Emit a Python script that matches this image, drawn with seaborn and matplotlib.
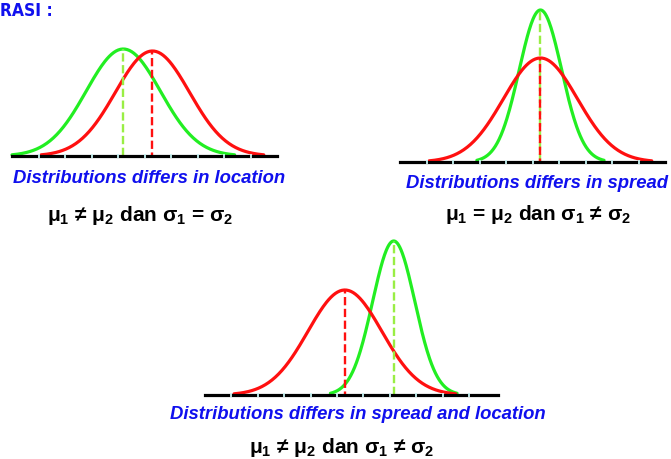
import numpy as np
import pandas as pd
import seaborn as sns
import matplotlib.pyplot as plt

# panel captions
judul = ["Distributions differs in location",
         "Distributions differs in spread",
         "Distributions differs in spread and location"]
rumus = [r"μ$_\mathbf{1}$ ≠ μ$_\mathbf{2}$ dan σ$_\mathbf{1}$ = σ$_\mathbf{2}$",
         r"μ$_\mathbf{1}$ = μ$_\mathbf{2}$ dan σ$_\mathbf{1}$ ≠ σ$_\mathbf{2}$",
         r"μ$_\mathbf{1}$ ≠ μ$_\mathbf{2}$ dan σ$_\mathbf{1}$ ≠ σ$_\mathbf{2}$"]

# distribution parameters per panel (red, green), x in tick units
mean_merah = [5.3, 5.3, 5.3]
sd_merah = [1.4, 1.4, 1.4]
tinggi_merah = [105, 104, 105]
mean_hijau = [4.2, 5.3, 7.15]
sd_hijau = [1.4, 0.8, 0.8]
tinggi_hijau = [107, 152, 154]
n_tick = [9, 9, 10]
x_max = [10, 10, 11.1]

sns.set_style("white")
plt.rcParams['font.family'] = ['Liberation Sans', 'DejaVu Sans']
plt.rcParams['mathtext.fontset'] = 'custom'
plt.rcParams['mathtext.bf'] = 'Liberation Sans:bold'
plt.rcParams['mathtext.rm'] = 'Liberation Sans'

W, H = 671, 460
fig = plt.figure(figsize=(W / 100, H / 100), dpi=100)

# axes position in pixels: left, right, baseline (from top), height
pos = [(12, 277, 157, 150), (400, 665, 163, 160), (205, 498, 396, 160)]

MERAH = '#ff1010'
HIJAU = '#22ee22'
HIJAU_MUDA = '#99ee44'

for i in range(3):
    kiri, kanan, dasar, tinggi = pos[i]
    ax = fig.add_axes([kiri / W, (H - dasar) / H, (kanan - kiri) / W, tinggi / H])

    frames = []
    for nama, m, s, t in [("hijau", mean_hijau[i], sd_hijau[i], tinggi_hijau[i]),
                          ("merah", mean_merah[i], sd_merah[i], tinggi_merah[i])]:
        x = np.linspace(m - 3 * s, m + 3 * s, 200)
        frames.append(pd.DataFrame({"x": x, "y": t * np.exp(-0.5 * ((x - m) / s) ** 2), "dist": nama}))
    df = pd.concat(frames)

    sns.lineplot(data=df, x="x", y="y", hue="dist", palette={"hijau": HIJAU, "merah": MERAH},
                 linewidth=2.3, legend=False, ax=ax, clip_on=False, sort=False)

    ax.vlines(mean_hijau[i], 0, tinggi_hijau[i], colors=HIJAU_MUDA, linestyles=(0, (3.5, 1.5)), linewidth=1.7)
    ax.vlines(mean_merah[i], 0, tinggi_merah[i], colors=MERAH, linestyles=(2, (3.5, 1.5)), linewidth=1.7)

    ax.set_xlim(0, x_max[i])
    ax.set_ylim(0, tinggi)
    for sp in ["top", "left", "right"]:
        ax.spines[sp].set_visible(False)
    ax.spines["bottom"].set_linewidth(2.3)
    ax.spines["bottom"].set_color("black")
    ax.set_axisbelow(False)
    ax.xaxis.set_zorder(4)
    ax.set_xticks(range(1, n_tick[i] + 1))
    ax.set_xticklabels([])
    ax.set_yticks([])
    ax.tick_params(axis="x", direction="inout", length=3, width=1.3, color="#c8f4f4", bottom=True)
    ax.set_xlabel("")
    ax.set_ylabel("")
    ax.patch.set_alpha(0)

# captions (pixel centres)
pos_judul = [(149, 179), (537, 184), (358, 415)]
pos_rumus = [(140, 216), (538, 215), (342, 448)]
for i in range(3):
    fig.text(pos_judul[i][0] / W, 1 - pos_judul[i][1] / H, judul[i], color='#1010ee',
             fontsize=13.3, fontweight='bold', fontstyle='italic', ha='center', va='center')
    fig.text(pos_rumus[i][0] / W, 1 - pos_rumus[i][1] / H, rumus[i], color='black',
             fontsize=15, fontweight='bold', ha='center', va='center')

fig.text(0, 1 - 11 / H, "RASI :", color='#1010ee', fontsize=12.5, fontweight='bold',
         ha='left', va='center', family=['DejaVu Sans'], stretch='condensed')

fig.savefig("out.png", dpi=100)
